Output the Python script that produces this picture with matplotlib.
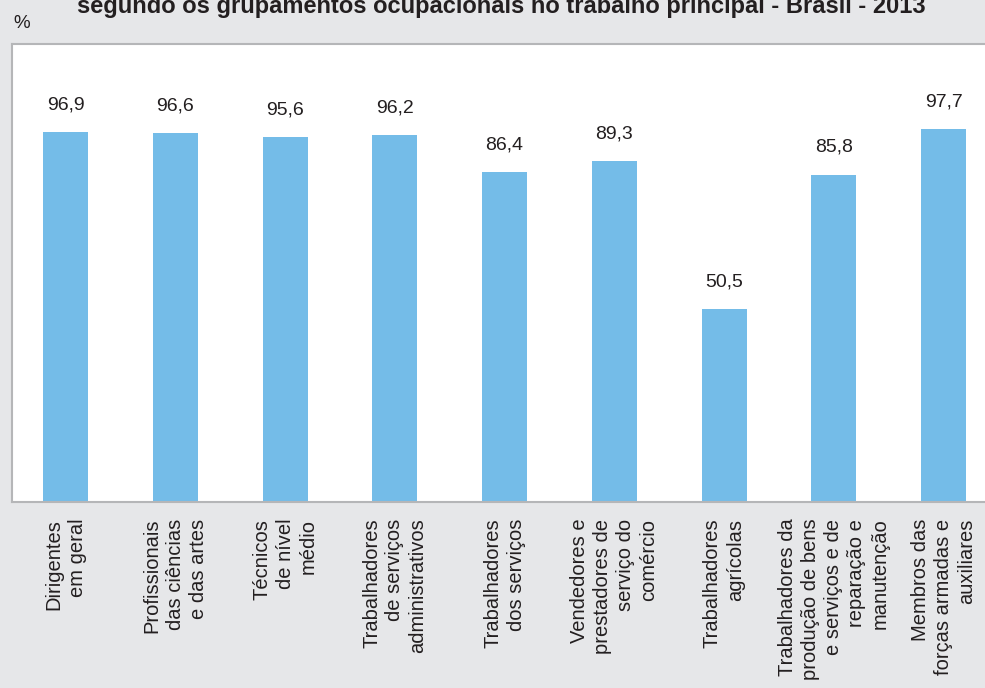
import matplotlib
matplotlib.use("Agg")
import matplotlib.pyplot as plt

# dados
categorias = [
    "Dirigentes\nem geral",
    "Profissionais\ndas ciências\ne das artes",
    "Técnicos\nde nível\nmédio",
    "Trabalhadores\nde serviços\nadministrativos",
    "Trabalhadores\ndos serviços",
    "Vendedores e\nprestadores de\nserviço do\ncomércio",
    "Trabalhadores\nagrícolas",
    "Trabalhadores da\nprodução de bens\ne serviços e de\nreparação e\nmanutenção",
    "Membros das\nforças armadas e\nauxiliares",
]
valores = [96.9, 96.6, 95.6, 96.2, 86.4, 89.3, 50.5, 85.8, 97.7]
titulo = "segundo os grupamentos ocupacionais no trabalho principal - Brasil - 2013"

fundo = "#e6e7e9"
azul = "#74bce8"
texto = "#231f20"

plt.rcParams["font.family"] = ["Liberation Sans", "DejaVu Sans"]

fig = plt.figure(figsize=(9.85, 6.88), dpi=100, facecolor=fundo)
ax = fig.add_axes([12 / 985, 1 - 502 / 688, 987.75 / 985, 458 / 688])
ax.set_facecolor("white")

x = list(range(len(valores)))
ax.bar(x, valores, width=0.41, color=azul, zorder=2)
ax.set_xlim(-0.4875, 8.5125)
ax.set_ylim(0, 120)

for i, v in zip(x, valores):
    ax.annotate(f"{v:.1f}".replace(".", ","), xy=(i, v), xytext=(0, 19.5),
                textcoords="offset points", ha="center", va="center",
                fontsize=14, color=texto)

ax.set_xticks(x)
ax.set_xticklabels(categorias, rotation=90, ha="center", va="top",
                   multialignment="right", fontsize=14.5, color=texto,
                   linespacing=1.27)
ax.tick_params(axis="x", length=0, pad=12)
ax.set_yticks([])

for s in ["left", "top", "bottom", "right"]:
    ax.spines[s].set_color("#b5b6b8")
    ax.spines[s].set_linewidth(1.5)

fig.text(13 / 985, 1 - 23 / 688, "%", fontsize=13.5, color=texto, va="center", ha="left")
fig.text(501 / 985, 1 - 13.5 / 688, titulo, fontsize=17, weight="bold",
         color=texto, ha="center", va="baseline")

fig.savefig("out.png", dpi=100, facecolor=fundo)
